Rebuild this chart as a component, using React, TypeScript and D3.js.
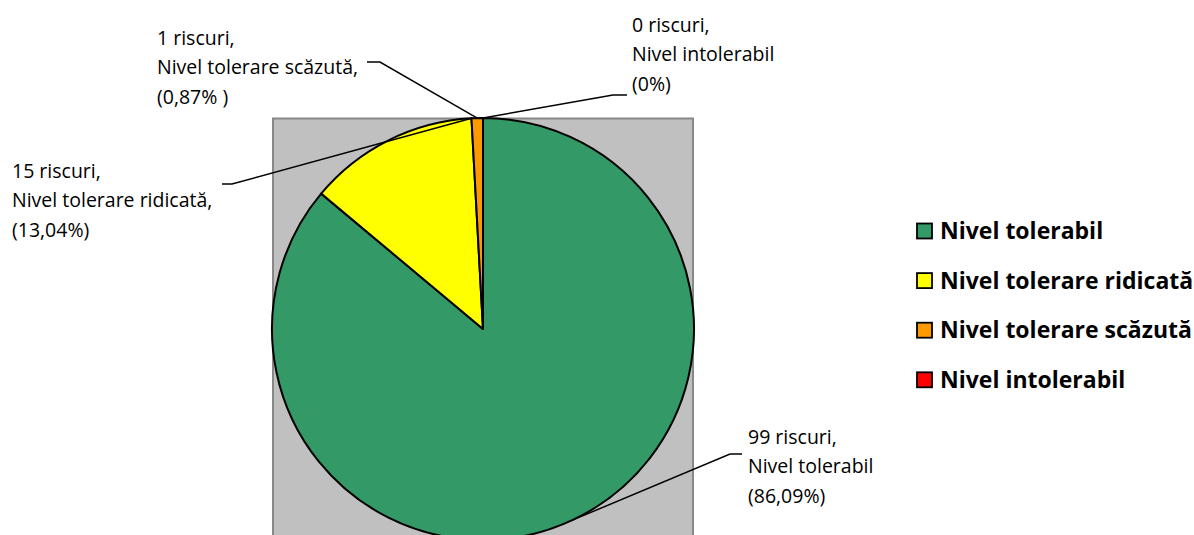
import React from "react";
import * as d3 from "d3";

const categories = ["Nivel tolerabil", "Nivel tolerare ridicată", "Nivel tolerare scăzută", "Nivel intolerabil"];
const counts = [99, 15, 1, 0];
const percentLabels = ["86,09%", "13,04%", "0,87% ", "0%"];
const colors = ["#339966", "#FFFF00", "#FF9900", "#FF0000"];

const W = 1194, H = 535;
const cx = 483, cy = 329, R = 211;

// label layout (positions only)
const labelLayout = [
  { x: 748, y: 437, comma: false, elbow: [742, 454], elbowEnd: [730, 454], targetAngle: null as number | null },
  { x: 12, y: 171, comma: true, elbow: [222, 184], elbowEnd: [232, 184], targetAngle: -3.1 },
  { x: 157, y: 38, comma: true, elbow: [367, 62], elbowEnd: [380, 62], targetAngle: null },
  { x: 632, y: 25, comma: false, elbow: [627, 95], elbowEnd: [613, 95], targetAngle: null },
];

export default function App() {
  const pie = d3.pie<number>().sort(null).value((d) => d)(counts);
  const arc = d3.arc<d3.PieArcDatum<number>>().innerRadius(0).outerRadius(R);
  const font = "'Open Sans', 'Segoe UI', sans-serif";
  const lh = 29.5;
  return (
    <div style={{ position: "fixed", left: 0, top: 0 }}>
      <svg width={W} height={H} style={{ display: "block", background: "#fff" }}>
        <rect x={273} y={118.5} width={420} height={430} fill="#C0C0C0" stroke="#888" strokeWidth={2} />
        <g transform={`translate(${cx},${cy})`}>
          {pie.map((p, i) => (
            <path key={i} d={arc(p) || ""} fill={colors[i]} stroke="#000" strokeWidth={2} strokeLinejoin="round" />
          ))}
        </g>
        {pie.map((p, i) => {
          const L = labelLayout[i];
          const mid = L.targetAngle !== null ? (L.targetAngle * Math.PI) / 180 : (p.startAngle + p.endAngle) / 2;
          const tx = cx + R * Math.sin(mid);
          const ty = cy - R * Math.cos(mid);
          const lines = [`${counts[i]} riscuri,`, `${categories[i]}${L.comma ? "," : ""}`, `(${percentLabels[i]})`];
          return (
            <g key={i}>
              <polyline
                points={`${L.elbow[0]},${L.elbow[1]} ${L.elbowEnd[0]},${L.elbowEnd[1]} ${tx},${ty}`}
                fill="none"
                stroke="#000"
                strokeWidth={1.5}
              />
              {lines.map((t, k) => (
                <text key={k} x={L.x} y={L.y + k * lh} dy="0.35em" fontFamily={font} fontSize={19.5} fill="#000">
                  {t}
                </text>
              ))}
            </g>
          );
        })}
        {categories.map((c, i) => (
          <g key={c} transform={`translate(917,${231 + i * 49.6})`}>
            <rect x={0} y={-7.5} width={15} height={15} fill={colors[i]} stroke="#000" strokeWidth={1.8} />
            <text x={23} y={0} dy="0.35em" fontFamily={font} fontWeight="bold" fontSize={23} fill="#000">
              {c}
            </text>
          </g>
        ))}
      </svg>
    </div>
  );
}
